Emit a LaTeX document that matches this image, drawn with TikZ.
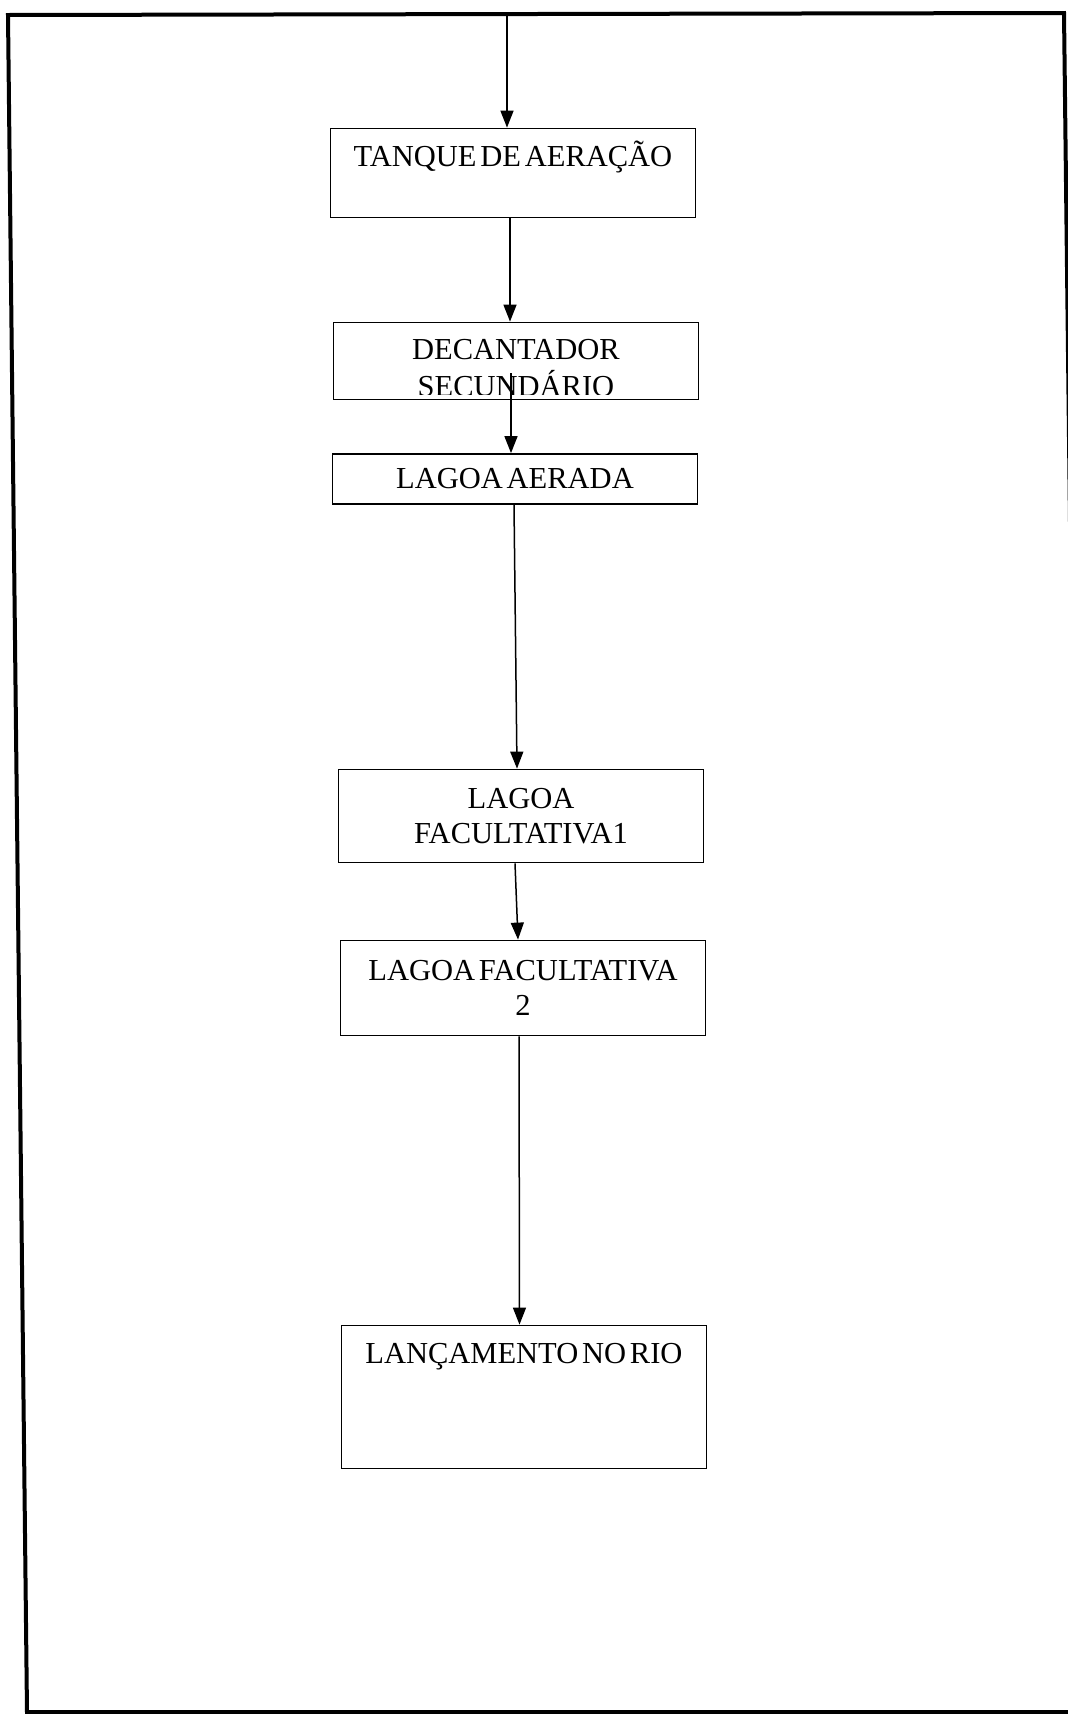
\documentclass[tikz,border=0pt]{standalone}
\usepackage{fontspec}
\setmainfont{Liberation Serif}[WordSpace=0.5]
\usetikzlibrary{arrows.meta,positioning}

\begin{document}
\begin{tikzpicture}[x=1pt,y=-1pt,>={Triangle[width=13pt,length=17pt]},line join=miter]
\useasboundingbox[fill=white] (0,0) rectangle (1068,1714);
\tikzset{etapa/.style={draw=black,line width=1.8pt,minimum width=365pt,inner sep=0pt,font=\fontsize{30.5}{35}\selectfont,align=center},rotulo/.style={anchor=base,inner sep=0pt,font=\fontsize{30.5}{37}\selectfont,align=center},fluxo/.style={draw=black,line width=1.5pt,->}}
\draw[line width=4pt] (8,15) -- (1064,13) -- (1084,1712) -- (27,1712) -- cycle;
% etapas do tratamento
\node[etapa,minimum height=89pt] (tanque) at (513,173) {}; \node[rotulo] (tanqueTxt) at ([yshift=-39pt]tanque.north) {TANQUE DE AERAÇÃO};
\node[etapa,minimum height=77pt] (deca) at (516,361) {};
\begin{scope} \clip ([yshift=5.5pt]deca.south west) rectangle (deca.north east); \node[rotulo] (decaTxt) at ([yshift=-35pt]deca.center) {DECANTADOR\\SECUNDÁRIO}; \end{scope}
\node[etapa,minimum height=50pt] (aerada) at (515,479) {LAGOA AERADA};
\node[etapa,minimum height=93pt] (fac1) at (521,816) {LAGOA\\FACULTATIVA1};
\node[etapa,minimum height=95pt] (fac2) at (523,988) {LAGOA FACULTATIVA\\2};
\node[etapa,minimum height=143pt] (lanc) at (524,1397) {}; \node[rotulo] (lancTxt) at ([yshift=-39pt]lanc.north) {LANÇAMENTO NO RIO};
% setas
\coordinate (entrada) at (507,15);
\draw[fluxo] (entrada) -- (entrada |- tanque.north);
\draw[fluxo] ([xshift=-3pt]tanque.south) -- ([xshift=-6pt]deca.north);
\draw[fluxo] ([xshift=-5pt,yshift=27pt]deca.south) -- ([xshift=-4pt]aerada.north);
\draw[fluxo] ([xshift=-1pt]aerada.south) -- ([xshift=-4pt]fac1.north);
\draw[fluxo] ([xshift=-6pt]fac1.south) -- ([xshift=-5pt]fac2.north);
\draw[fluxo] ([xshift=-4pt]fac2.south) -- ([xshift=-4.5pt]lanc.north);
\end{tikzpicture}
\end{document}
